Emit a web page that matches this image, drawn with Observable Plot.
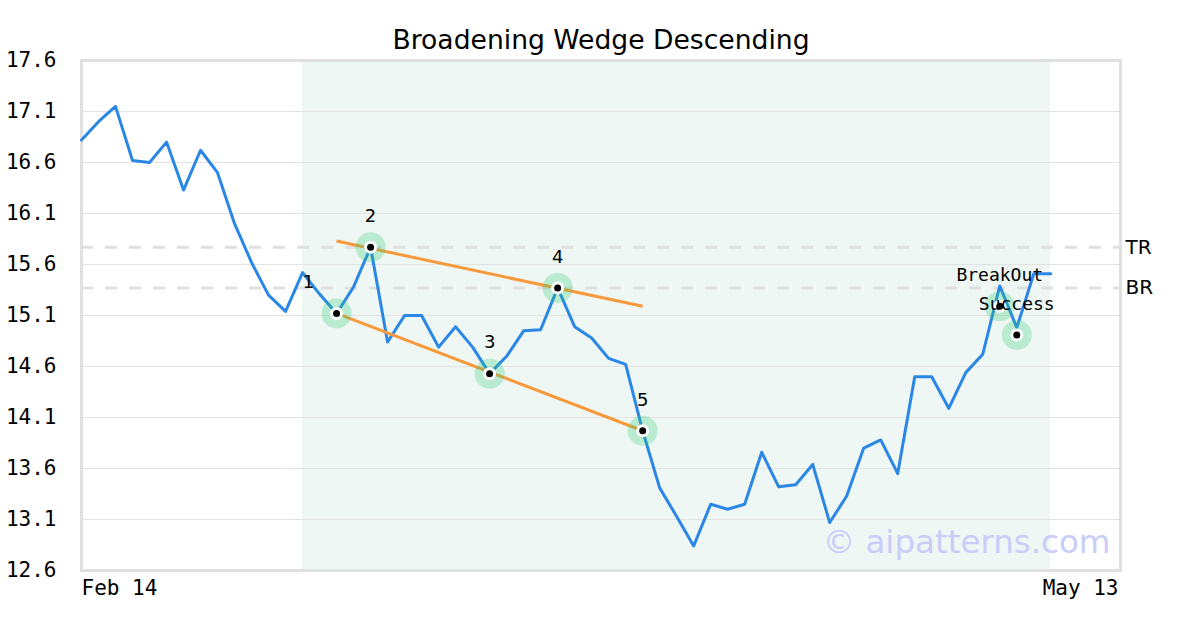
<!DOCTYPE html>
<html>
<head>
<meta charset="utf-8">
<script src="https://cdn.jsdelivr.net/npm/d3@7"></script>
<script src="https://cdn.jsdelivr.net/npm/@observablehq/plot@0.6"></script>
<style>
  html, body { margin: 0; padding: 0; background: #fff; }
  #chart { width: 1200px; height: 630px; }
</style>
</head>
<body>
<div id="chart"></div>
<script>
// ---- data ----
const title = "Broadening Wedge Descending";
const prices = [
  16.82, 17.00, 17.15, 16.62, 16.60, 16.80, 16.33, 16.72, 16.50, 16.00,
  15.62, 15.30, 15.14, 15.52, 15.31, 15.12, 15.38, 15.77, 14.84, 15.10,
  15.10, 14.79, 14.99, 14.79, 14.53, 14.70, 14.95, 14.96, 15.37, 14.99,
  14.88, 14.68, 14.62, 13.97, 13.41, 13.13, 12.84, 13.25, 13.20, 13.25,
  13.76, 13.42, 13.44, 13.64, 13.07, 13.33, 13.80, 13.88, 13.55, 14.50,
  14.50, 14.19, 14.54, 14.72, 15.39, 14.98, 15.51, 15.51
];
const xMax = 61.1;
const yTicks = [12.6, 13.1, 13.6, 14.1, 14.6, 15.1, 15.6, 16.1, 16.6, 17.1, 17.6];
const xTickLabels = ["Feb 14", "May 13"];
const xTickIdx = [0, xMax];
const patternRange = [13, 57];
const pivotIdx = [15, 17, 24, 28, 33];
const pivotVal = [15.12, 15.77, 14.53, 15.37, 13.97];
const pivotLabels = ["1", "2", "3", "4", "5"];
const signalIdx = [54, 55];
const signalVal = [15.19, 14.91];
const signalLabels = ["BreakOut", "Success"];
const upperTrend = [15, 15.83, 33, 15.19];
const lowerTrend = [15, 15.12, 33, 13.97];
const levelNames = ["TR", "BR"];
const levelVals = [15.77, 15.37];
const watermark = "© aipatterns.com";

// ---- tables built from arrays ----
const series = prices.map((v, i) => ({i, v}));
const pivots = pivotIdx.map((i, k) => ({i, v: pivotVal[k], label: pivotLabels[k]}));
const signals = signalIdx.map((i, k) => ({i, v: signalVal[k], label: signalLabels[k]}));
const trends = [upperTrend, lowerTrend].map(t => ({x1: t[0], y1: t[1], x2: t[2], y2: t[3]}));
const levels = levelNames.map((n, k) => ({n, v: levelVals[k]}));
const allMarkers = pivots.concat(signals);

const sans = "DejaVu Sans";
const mono = "DejaVu Sans Mono";

const chart = Plot.plot({
  width: 1200,
  height: 630,
  marginLeft: 81,
  marginRight: 80,
  marginTop: 60,
  marginBottom: 60,
  style: {fontFamily: mono, fontSize: "21px", color: "#000", background: "#fff"},
  x: {domain: [0, xMax], axis: null},
  y: {domain: [12.6, 17.6], axis: null},
  marks: [
    Plot.rect([{x1: patternRange[0], x2: patternRange[1]}], {x1: "x1", x2: "x2", fill: "#eef7f3"}),
    Plot.ruleY(yTicks, {stroke: "#e3e3e3", strokeWidth: 1}),
    Plot.ruleY(levels, {y: "v", stroke: "#e0e0e0", strokeWidth: 3, strokeDasharray: "12,12"}),
    Plot.text(levels, {y: "v", text: "n", frameAnchor: "right", dx: 5, textAnchor: "start", lineAnchor: "middle", fontFamily: sans, fontSize: 20, fill: "#000"}),
    Plot.frame({stroke: "#e0e0e0", strokeWidth: 3}),
    Plot.axisY({ticks: yTicks, tickSize: 0, tickPadding: 25, tickFormat: d => d.toFixed(1), fontSize: 21, fontFamily: mono, fill: "#000"}),
    Plot.text([xTickLabels[0]], {x: xTickIdx[0], text: d => d, frameAnchor: "bottom", lineAnchor: "middle", dy: 18, textAnchor: "start", fontFamily: mono, fontSize: 21, fill: "#000"}),
    Plot.text([xTickLabels[1]], {x: xTickIdx[1], text: d => d, frameAnchor: "bottom", lineAnchor: "middle", dy: 18, dx: -2, textAnchor: "end", fontFamily: mono, fontSize: 21, fill: "#000"}),
    Plot.line(series, {x: "i", y: "v", stroke: "#2b87e6", strokeWidth: 3}),
    Plot.link(trends, {x1: "x1", y1: "y1", x2: "x2", y2: "y2", stroke: "#f89a3c", strokeWidth: 3}),
    Plot.dot(allMarkers, {x: "i", y: "v", r: 15, fill: "#2ecc71", fillOpacity: 0.27, stroke: null}),
    Plot.dot(allMarkers, {x: "i", y: "v", r: 6.5, fill: "#fff", stroke: null}),
    Plot.dot(allMarkers, {x: "i", y: "v", r: 3.5, fill: "#000", stroke: null}),
    Plot.text(pivots.slice(0, 1), {x: "i", y: "v", text: "label", dy: -31, dx: -28, fontFamily: sans, fontSize: 18, fill: "#000"}),
    Plot.text(pivots.slice(1), {x: "i", y: "v", text: "label", dy: -31, fontFamily: sans, fontSize: 18, fill: "#000"}),
    Plot.text(signals, {x: "i", y: "v", text: "label", dy: -31, fontFamily: mono, fontSize: 18, fill: "#000"}),
    Plot.text([watermark], {text: d => d, frameAnchor: "bottom-right", lineAnchor: "middle", dx: -10, dy: -28, textAnchor: "end", fontFamily: sans, fontSize: 32.5, fill: "#cacdf9"}),
    Plot.text([title], {text: d => d, frameAnchor: "top", lineAnchor: "middle", dy: -20, fontFamily: sans, fontSize: 26.6, fill: "#000"})
  ]
});
document.getElementById("chart").appendChild(chart);
</script>
</body>
</html>
